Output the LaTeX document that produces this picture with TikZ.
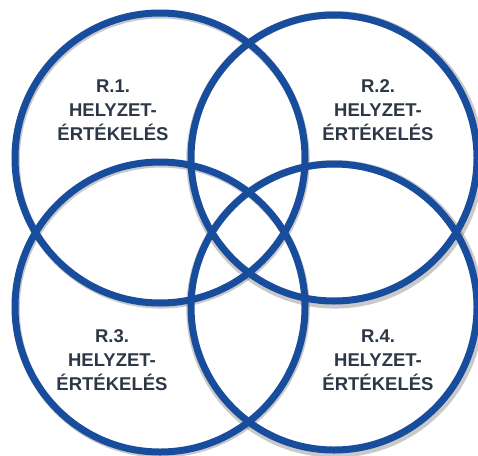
\documentclass[tikz,border=0pt]{standalone}
\usepackage{fontspec}
\setmainfont{Liberation Sans}
\begin{document}
\begin{tikzpicture}[x=1pt,y=-1pt,
  ring/.style={draw=ringblue,line width=7pt},
  ringshadow/.style={draw=black!60,line width=7.5pt,opacity=0.35},
  lbl/.style={text=labelgray,font=\bfseries\fontsize{18.5}{24}\selectfont,align=center}]
\definecolor{ringblue}{RGB}{24,76,156}
\definecolor{labelgray}{RGB}{45,55,70}
\useasboundingbox (0,0) rectangle (478,455);
\fill[white] (0,0) rectangle (478,455);
\foreach \cx/\cy in {160/158,334/158,160/307,334/307}{
  \draw[ringshadow] (\cx+1,\cy+1.8) circle[radius=145];
}
\draw[ring] (160,158) circle[radius=145];
\draw[ring] (334,158) circle[radius=143];
\draw[ring] (160,307) circle[radius=145];
\draw[ring] (334,307) circle[radius=143];
\node[lbl] (r1) at (113,110) {R.1.\\HELYZET-\\ÉRTÉKELÉS};
\node[lbl] (r2) at (378,110) {R.2.\\HELYZET-\\ÉRTÉKELÉS};
\node[lbl] (r3) at (112,360) {R.3.\\HELYZET-\\ÉRTÉKELÉS};
\node[lbl] (r4) at (378,360) {R.4.\\HELYZET-\\ÉRTÉKELÉS};
\end{tikzpicture}
\end{document}
